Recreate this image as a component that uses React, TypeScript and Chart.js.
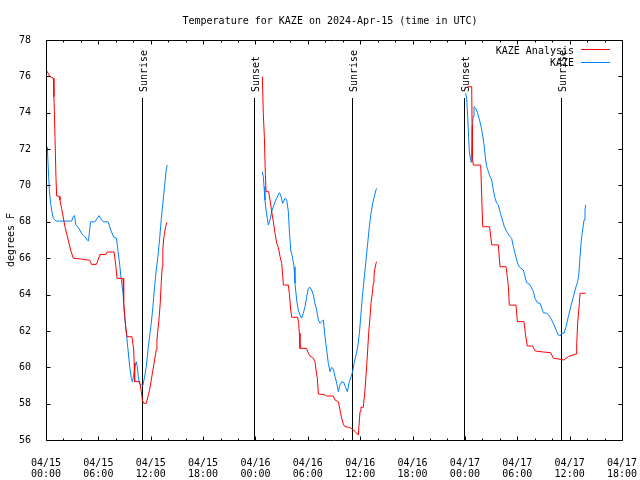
import React, { useEffect, useRef } from "react";
import { Chart, registerables } from "chart.js";

Chart.register(...registerables);

// Hours since 2024-04-15 00:00 UTC
const X_MIN = 0;
const X_MAX = 66;
const Y_MIN = 56;
const Y_MAX = 78;

const titleText = "Temperature for KAZE on 2024-Apr-15 (time in UTC)";
const yAxisLabel = "degrees F";
const seriesNames = ["KAZE Analysis", "KAZE"];
const seriesColors = ["#ff0000", "#0080ff"];

const xTickDates = ["04/15", "04/15", "04/15", "04/15", "04/16", "04/16", "04/16", "04/16", "04/17", "04/17", "04/17", "04/17"];
const xTickTimes = ["00:00", "06:00", "12:00", "18:00", "00:00", "06:00", "12:00", "18:00", "00:00", "06:00", "12:00", "18:00"];

const sunEventHours = [11.03, 23.87, 35.03, 47.94, 58.97];
const sunEventLabels = ["Sunrise", "Sunset", "Sunrise", "Sunset", "Sunrise"];

// KAZE Analysis (red)
const analysisHours1 = [0.08, 0.46, 0.84, 0.91, 1.03, 1.14, 1.22, 1.52, 1.6, 1.79, 2.17, 2.55, 2.82, 3.12, 4.07, 5.02, 5.21, 5.78, 6.09, 6.16, 6.85, 7.0, 7.8, 7.99, 8.14, 8.83, 8.9, 9.13, 9.28, 9.85, 10.05, 10.1, 10.16, 10.73, 10.92, 11.04, 11.19, 11.49, 11.68, 11.87, 12.06, 12.25, 12.44, 12.63, 12.71, 12.82, 12.94, 13.09, 13.2, 13.32, 13.39, 13.47, 13.58, 13.7, 13.85];
const analysisTemps1 = [76.31, 75.98, 75.9, 74.88, 72.68, 70.48, 69.42, 69.4, 69.2, 68.74, 67.73, 67.0, 66.45, 66.0, 65.95, 65.88, 65.66, 65.66, 66.08, 66.2, 66.2, 66.34, 66.34, 65.62, 64.89, 64.89, 63.6, 62.23, 61.68, 61.68, 60.95, 60.22, 59.21, 59.21, 58.66, 58.2, 58.02, 58.02, 58.38, 58.75, 59.3, 59.85, 60.4, 60.95, 61.5, 62.05, 62.6, 63.52, 64.62, 65.53, 66.45, 67.0, 67.37, 67.73, 67.97];

const analysisHours2 = [24.79, 24.9, 25.02, 25.13, 25.21, 25.51, 25.67, 25.86, 26.05, 26.24, 26.43, 26.62, 26.82, 27.01, 27.12, 27.2, 27.77, 27.88, 28.04, 28.15, 28.84, 28.95, 29.03, 29.1, 29.87, 30.06, 30.25, 30.63, 30.82, 30.94, 31.09, 31.21, 31.97, 32.16, 32.92, 33.12, 33.5, 33.69, 33.88, 34.07, 34.26, 34.64, 34.91, 35.41, 35.79, 35.98, 36.09, 36.36, 36.55, 36.74, 36.86, 36.97, 37.13, 37.24, 37.39, 37.51, 37.58, 37.66, 37.81, 37.89];
const analysisTemps2 = [75.98, 73.97, 72.68, 70.67, 69.66, 69.66, 69.2, 68.56, 68.0, 67.37, 66.82, 66.6, 66.08, 65.7, 65.07, 64.52, 64.52, 64.07, 63.15, 62.75, 62.75, 62.42, 61.87, 61.04, 61.04, 60.77, 60.62, 60.5, 60.3, 59.85, 59.39, 58.53, 58.48, 58.42, 58.42, 58.2, 58.1, 57.65, 57.19, 56.88, 56.73, 56.7, 56.66, 56.47, 56.27, 57.56, 57.8, 57.8, 58.75, 60.03, 60.95, 61.87, 62.78, 63.52, 64.07, 64.62, 64.98, 65.35, 65.71, 65.8];

const analysisHours3 = [48.28, 48.78, 48.82, 48.85, 48.97, 49.81, 49.92, 50.04, 50.11, 50.8, 50.88, 51.07, 51.83, 52.02, 52.71, 52.86, 52.98, 53.09, 53.86, 54.01, 54.77, 54.92, 55.15, 55.77, 56.03, 56.61, 57.83, 58.13, 58.9, 59.36, 59.85, 60.73, 60.81, 60.92, 61.11, 61.19, 61.84];
const analysisTemps3 = [75.43, 75.43, 73.32, 71.5, 71.12, 71.12, 69.47, 67.73, 67.73, 67.73, 67.55, 66.73, 66.73, 65.53, 65.53, 64.98, 64.43, 63.42, 63.42, 62.51, 62.51, 61.87, 61.17, 61.17, 60.9, 60.86, 60.8, 60.5, 60.44, 60.4, 60.59, 60.73, 61.3, 62.42, 63.52, 64.07, 64.07];

// KAZE observations (blue)
const obsHours1 = [0.15, 0.27, 0.38, 0.53, 0.68, 0.84, 1.14, 2.93, 3.12, 3.27, 3.42, 3.69, 4.07, 4.45, 4.72, 4.87, 5.1, 5.59, 6.09, 6.35, 6.62, 7.12, 7.42, 7.76, 8.07, 8.26, 8.45, 8.56, 8.71, 8.83, 8.94, 9.09, 9.25, 9.4, 9.59, 9.78, 9.89, 10.05, 10.2, 10.35, 10.46, 10.58, 10.73, 10.92, 11.11, 11.3, 11.49, 11.61, 11.72, 11.87, 12.06, 12.25, 12.44, 12.63, 12.82, 13.01, 13.2, 13.39, 13.58, 13.77, 13.89];
const obsTemps1 = [72.13, 70.85, 69.75, 69.0, 68.56, 68.19, 68.04, 68.04, 68.28, 68.35, 67.82, 67.7, 67.37, 67.18, 67.0, 66.95, 68.0, 68.0, 68.34, 68.1, 68.0, 68.0, 67.55, 67.15, 67.1, 66.36, 65.62, 65.07, 64.52, 64.07, 63.15, 62.42, 61.68, 60.95, 60.03, 59.39, 59.2, 59.57, 60.03, 60.31, 60.03, 59.48, 59.08, 59.03, 59.0, 59.48, 60.03, 60.58, 61.13, 61.68, 62.42, 63.33, 64.43, 65.35, 66.08, 67.0, 68.1, 69.02, 69.93, 70.85, 71.12];

const obsHours2 = [24.79, 24.9, 24.98, 25.09, 25.21, 25.36, 25.47, 25.67, 25.86, 26.05, 26.43, 26.74, 26.89, 27.12, 27.39, 27.58, 27.77, 27.88, 28.04, 28.23, 28.42, 28.53, 28.72, 28.91, 29.1, 29.29, 29.48, 29.68, 29.87, 30.06, 30.25, 30.44, 30.63, 30.82, 31.01, 31.21, 31.4, 31.59, 31.78, 31.97, 32.16, 32.35, 32.54, 32.73, 32.92, 33.12, 33.31, 33.5, 33.69, 33.88, 34.14, 34.37, 34.53, 34.76, 34.95, 35.14, 35.3, 35.53, 35.72, 35.91, 36.06, 36.25, 36.44, 36.67, 36.86, 37.05, 37.24, 37.43, 37.62, 37.81, 37.89];
const obsTemps2 = [70.76, 70.48, 69.93, 69.2, 68.65, 68.19, 67.82, 68.1, 68.56, 68.84, 69.3, 69.6, 69.47, 69.02, 69.3, 69.2, 68.56, 67.55, 66.45, 66.08, 65.53, 64.62, 63.7, 63.15, 62.88, 62.7, 62.97, 63.33, 63.88, 64.34, 64.4, 64.25, 63.98, 63.52, 63.15, 62.6, 62.42, 62.51, 62.6, 61.68, 60.95, 60.22, 59.76, 60.0, 59.9, 59.48, 59.12, 58.66, 59.03, 59.21, 59.15, 58.84, 58.66, 59.21, 59.48, 59.76, 60.22, 60.68, 61.13, 61.87, 62.78, 63.88, 64.8, 65.9, 66.82, 67.73, 68.47, 69.02, 69.39, 69.75, 69.84];

const obsHours3 = [48.09, 48.2, 48.32, 48.43, 48.51, 48.62, 48.7, 48.78, 48.85, 48.93, 49.04, 49.23, 49.43, 49.62, 49.81, 50.0, 50.19, 50.38, 50.5, 50.69, 50.88, 51.07, 51.26, 51.45, 51.64, 51.83, 52.02, 52.29, 52.52, 52.79, 53.17, 53.36, 53.55, 53.74, 53.93, 54.12, 54.39, 54.7, 54.89, 55.08, 55.38, 55.57, 55.84, 56.03, 56.3, 56.61, 56.99, 57.37, 57.68, 57.94, 58.21, 58.44, 58.71, 58.9, 59.09, 59.36, 59.59, 59.85, 60.12, 60.43, 60.73, 60.88, 61.03, 61.19, 61.34, 61.49, 61.65, 61.76, 61.84];
const obsTemps3 = [75.07, 74.8, 73.79, 72.6, 71.87, 71.5, 71.28, 71.59, 72.87, 73.79, 74.34, 74.25, 74.01, 73.7, 73.33, 72.87, 72.23, 71.4, 71.04, 70.76, 70.48, 70.3, 69.75, 69.3, 69.02, 68.93, 68.56, 68.1, 67.73, 67.46, 67.18, 67.09, 66.64, 66.27, 65.9, 65.62, 65.44, 65.35, 64.98, 64.65, 64.58, 64.43, 64.16, 63.79, 63.55, 63.52, 63.0, 62.97, 62.82, 62.6, 62.33, 62.05, 61.78, 61.72, 61.87, 61.87, 62.23, 62.78, 63.33, 63.88, 64.43, 64.65, 64.98, 66.08, 67.0, 67.55, 68.1, 68.65, 68.93];

type Pt = { x: number; y: number | null };

function joinSegments(segs: [number[], number[]][]): Pt[] {
  const out: Pt[] = [];
  segs.forEach(([hs, ts], i) => {
    if (i > 0) out.push({ x: (out[out.length - 1].x + hs[0]) / 2, y: null });
    hs.forEach((h, j) => out.push({ x: h, y: ts[j] }));
  });
  return out;
}

const FONT = "10px 'DejaVu Sans Mono', monospace";

const gnuplotDecor = {
  id: "gnuplotDecor",
  beforeDatasetsDraw(chart: any) {
    const { ctx, chartArea: a, scales } = chart;
    const x = scales.x;
    ctx.save();
    ctx.strokeStyle = "#000";
    ctx.fillStyle = "#000";
    ctx.lineWidth = 1;
    ctx.font = FONT;
    sunEventHours.forEach((h, i) => {
      const px = Math.round(x.getPixelForValue(h)) + 0.5;
      ctx.beginPath();
      ctx.moveTo(px, a.top + 58);
      ctx.lineTo(px, a.bottom);
      ctx.stroke();
      ctx.save();
      ctx.translate(px + 4.5, a.top + 52);
      ctx.rotate(-Math.PI / 2);
      ctx.textAlign = "left";
      ctx.textBaseline = "alphabetic";
      ctx.fillText(sunEventLabels[i], 0, 0);
      ctx.restore();
    });
    ctx.restore();
  },
  afterDatasetsDraw(chart: any) {
    const { ctx, chartArea: a, scales } = chart;
    const x = scales.x;
    const y = scales.y;
    const L = a.left + 0.5;
    const R = a.right + 0.5;
    const T = a.top + 0.5;
    const B = a.bottom + 0.5;
    ctx.save();
    ctx.strokeStyle = "#000";
    ctx.lineWidth = 1;
    ctx.beginPath();
    ctx.rect(L, T, R - L, B - T);
    ctx.stroke();
    // x ticks (inward, bottom and top)
    ctx.beginPath();
    for (let h = X_MIN; h <= X_MAX; h += 2) {
      const px = Math.round(x.getPixelForValue(h)) + 0.5;
      const len = h % 6 === 0 ? 4 : 2;
      ctx.moveTo(px, B);
      ctx.lineTo(px, B - len);
      ctx.moveTo(px, T);
      ctx.lineTo(px, T + len);
    }
    // y ticks (inward, left and right)
    for (let v = Y_MIN; v <= Y_MAX; v += 2) {
      const py = Math.round(y.getPixelForValue(v)) + 0.5;
      ctx.moveTo(L, py);
      ctx.lineTo(L + 4, py);
      ctx.moveTo(R, py);
      ctx.lineTo(R - 4, py);
    }
    ctx.stroke();

    ctx.fillStyle = "#000";
    ctx.font = FONT;
    // title
    ctx.textAlign = "center";
    ctx.textBaseline = "alphabetic";
    ctx.fillText(titleText, 330, 24);
    // y axis label
    ctx.save();
    ctx.translate(14, 240);
    ctx.rotate(-Math.PI / 2);
    ctx.textAlign = "center";
    ctx.fillText(yAxisLabel, 0, 0);
    ctx.restore();
    // legend
    const legendY = [53.8, 66.3];
    const sampleY = [49.5, 62.5];
    seriesNames.forEach((name, i) => {
      ctx.textAlign = "right";
      ctx.fillText(name, 574, legendY[i]);
      ctx.strokeStyle = seriesColors[i];
      ctx.beginPath();
      ctx.moveTo(581, sampleY[i]);
      ctx.lineTo(610, sampleY[i]);
      ctx.stroke();
    });
    ctx.restore();
  },
};

export default function App() {
  const canvasRef = useRef<HTMLCanvasElement | null>(null);

  useEffect(() => {
    document.body.style.margin = "0";
    const canvas = canvasRef.current;
    if (!canvas) return;
    Chart.defaults.color = "#000";

    const analysisData = joinSegments([
      [analysisHours1, analysisTemps1],
      [analysisHours2, analysisTemps2],
      [analysisHours3, analysisTemps3],
    ]);
    const obsData = joinSegments([
      [obsHours1, obsTemps1],
      [obsHours2, obsTemps2],
      [obsHours3, obsTemps3],
    ]);

    const tickFont = { family: "'DejaVu Sans Mono', monospace", size: 10, lineHeight: 1.1 };

    const chart = new Chart(canvas, {
      type: "line",
      data: {
        datasets: [
          {
            label: seriesNames[0],
            data: analysisData as any,
            borderColor: seriesColors[0],
            backgroundColor: seriesColors[0],
            borderWidth: 1,
            pointRadius: 0,
            tension: 0,
            spanGaps: false,
          },
          {
            label: seriesNames[1],
            data: obsData as any,
            borderColor: seriesColors[1],
            backgroundColor: seriesColors[1],
            borderWidth: 1,
            pointRadius: 0,
            tension: 0,
            spanGaps: false,
          },
        ],
      },
      options: {
        responsive: false,
        animation: false,
        parsing: false as any,
        layout: { padding: { top: 40, right: 18, left: 0, bottom: 0 } },
        plugins: {
          legend: { display: false },
          title: { display: false },
          tooltip: { enabled: false },
        },
        scales: {
          x: {
            type: "linear",
            min: X_MIN,
            max: X_MAX,
            grid: { display: false },
            border: { display: false },
            ticks: {
              stepSize: 6,
              autoSkip: false,
              maxRotation: 0,
              minRotation: 0,
              padding: 9.5,
              font: tickFont,
              color: "#000",
              callback: (v: any) => {
                const i = Math.round(Number(v) / 6);
                return [xTickDates[i], xTickTimes[i]];
              },
            },
            afterFit: (scale: any) => {
              scale.height = 40;
              scale.paddingLeft = 0;
              scale.paddingRight = 0;
            },
          },
          y: {
            type: "linear",
            min: Y_MIN,
            max: Y_MAX,
            grid: { display: false },
            border: { display: false },
            ticks: {
              stepSize: 2,
              padding: 7,
              font: { family: "'DejaVu Sans Mono', monospace", size: 10 },
              color: "#000",
            },
            afterFit: (scale: any) => {
              scale.width = 46;
              scale.paddingTop = 0;
              scale.paddingBottom = 0;
            },
          },
        },
      },
      plugins: [gnuplotDecor],
    });

    return () => chart.destroy();
  }, []);

  return (
    <div style={{ width: 640, height: 480 }}>
      <canvas ref={canvasRef} width={640} height={480} style={{ display: "block" }} />
    </div>
  );
}
